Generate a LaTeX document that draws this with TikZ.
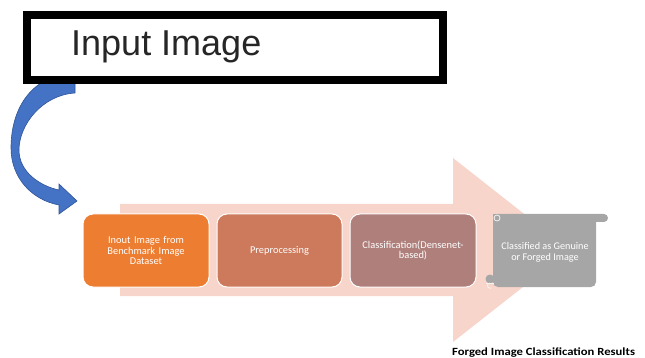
\documentclass[tikz,border=0pt]{standalone}
\usepackage{fontspec}
\setmainfont{Carlito}
\newfontfamily\headfont{Liberation Sans}
\begin{document}
\begin{tikzpicture}[x=1pt,y=-1pt,
  stagebox/.style={draw=white, line width=1pt, rounded corners=10pt,
    minimum width=126pt, minimum height=73pt, inner sep=0pt,
    text=white, align=center, text width=110pt,
    font=\fontsize{10.4}{10.5}\selectfont},
  scrolltext/.style={text=white, align=center, inner sep=0pt,
    font=\fontsize{10.2}{11}\selectfont}]
\definecolor{flowpink}{HTML}{F8D5CA}
\definecolor{stageA}{HTML}{ED7D31}
\definecolor{stageB}{HTML}{CD795B}
\definecolor{stageC}{HTML}{AF7F7B}
\definecolor{scrollgrey}{HTML}{A6A6A6}
\definecolor{curveblue}{HTML}{4472C4}
\definecolor{curveedge}{HTML}{2F5597}
\useasboundingbox (0,0) rectangle (645,358);

% wide pale flow arrow behind the stages
\fill[flowpink] (120,204) -- (453,204) -- (453,158) -- (570,250)
  -- (453,342) -- (453,296) -- (120,296) -- cycle;

% curved blue arrow leading down from the title box
\filldraw[fill=curveblue, draw=curveedge, line width=0.6pt]
  (75,72) -- (75,93)
  .. controls (42,95) and (19,125) .. (19,150)
  .. controls (19,172) and (40,186) .. (59,190)
  -- (59,184) -- (77,201) -- (59,214) -- (59,205)
  .. controls (32,200) and (11,178) .. (11,148)
  .. controls (11,112) and (28,76) .. (75,72) -- cycle;

% title box
\node[draw=black, line width=8pt, fill=white, minimum width=416pt,
  minimum height=65.5pt, inner sep=0pt] (title) at (235,47.75) {};
\node[anchor=base west, inner sep=0pt, text=black!85,
  font=\headfont\fontsize{36}{40}\selectfont] (titletext) at (71,56) {Input Image};

% processing stages
\node[stagebox, fill=stageA] (input) at (146,250.5)
  {Inout Image from\\Benchmark Image\\Dataset};
\node[stagebox, fill=stageB, minimum width=125pt] (prep) at (279.5,250.5)
  {Preprocessing};
\node[stagebox, fill=stageC] (cls) at (413,250.5)
  {Classification(Densenet-\\based)};

% result scroll
\fill[scrollgrey, rounded corners=5pt] (493,216) -- (596,216) -- (596,287)
  -- (493,287) [sharp corners] -- cycle;
\fill[scrollgrey] (493,214) rectangle (596,222);
\fill[scrollgrey, rounded corners=4pt] (493,214) rectangle (608,222);
\fill[scrollgrey] (490,279) circle (4.5pt);
\draw[white!85!scrollgrey, line width=0.8pt] (497,218) circle (3pt);
\draw[white!85!scrollgrey, line width=0.8pt] (490,283) arc (90:300:2.6pt);
\draw[white!85!scrollgrey, line width=0.8pt] (486,283) -- (494,283);
\node[scrolltext] (result) at (545,252)
  {Classified as Genuine\\or Forged Image};

% caption
\node[anchor=base west, inner sep=0pt,
  font=\bfseries\fontsize{11}{13}\selectfont] (caption) at (452,355)
  {\scalebox{1.15}[1]{Forged Image Classification Results}};
\end{tikzpicture}
\end{document}
